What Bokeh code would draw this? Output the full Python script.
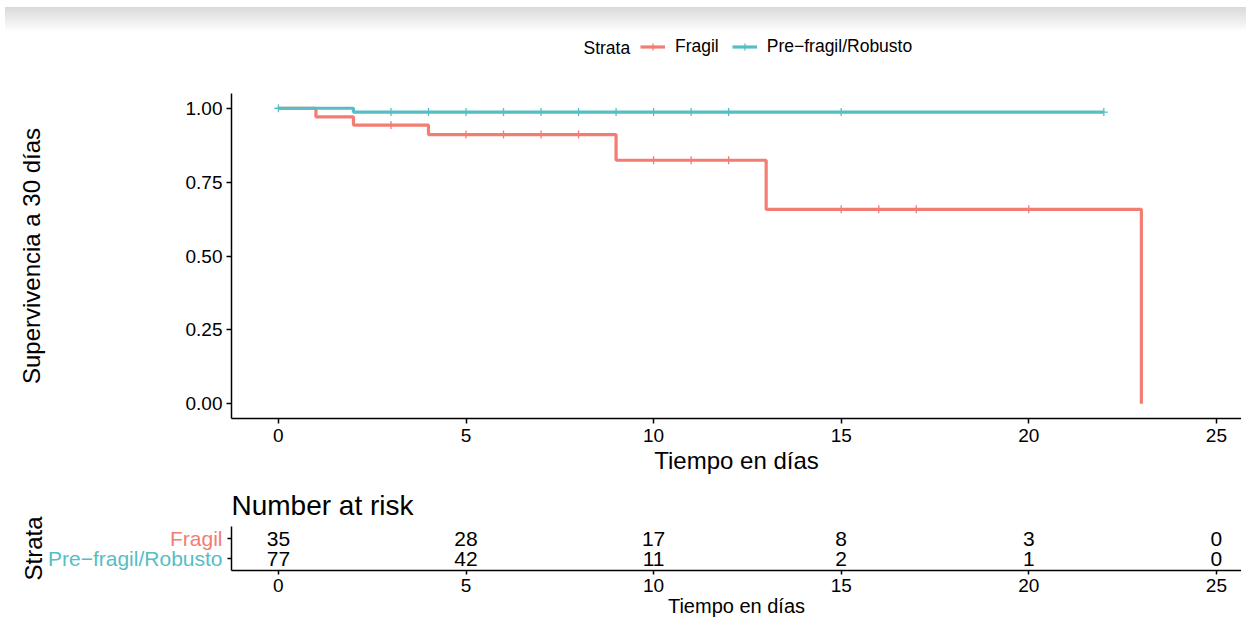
import numpy as np
from bokeh.plotting import figure
from bokeh.models import (Range1d, FixedTicker, PrintfTickFormatter, Legend, LegendItem, Div)
from bokeh.layouts import column, row
from bokeh.core.properties import value
from bokeh.embed import file_html
from bokeh.resources import INLINE

FONT = "Liberation Sans"

# ---------------- data ----------------
strata = ["Fragil", "Pre−fragil/Robusto"]
fragil_time = [0, 1, 2, 4, 9, 13, 23]
fragil_surv = [1.0, 0.971, 0.943, 0.911, 0.824, 0.658, 0.0]
fragil_censor = [3, 5, 6, 7, 8, 10, 11, 12, 15, 16, 17, 20]
robusto_time = [0, 2, 22]
robusto_surv = [1.0, 0.987, 0.987]
robusto_censor = [0, 3, 4, 5, 6, 7, 8, 9, 10, 11, 12, 15, 22]
risk_time = [0, 5, 10, 15, 20, 25]
risk_fragil = [35, 28, 17, 8, 3, 0]
risk_robusto = [77, 42, 11, 2, 1, 0]
x_ticks = [0, 5, 10, 15, 20, 25]
y_ticks = [0, 0.25, 0.5, 0.75, 1.0]

COL_F = "#F27D72"
COL_R = "#55BEC4"

# ---------------- layout constants ----------------
W = 1241
FRAME_LEFT = 231
X_START = -1.25
PX_PER_DAY = 37.52
X_END = X_START + (W - FRAME_LEFT) / PX_PER_DAY


def surv_at(times, surv, ts):
    idx = np.searchsorted(np.array(times), np.array(ts), side="right") - 1
    return [surv[i] for i in idx]


def style_axes(fig, tick_size="19px", title_size="24px"):
    for ax in (fig.xaxis[0], fig.yaxis[0]):
        ax.axis_line_color = "black"
        ax.axis_line_width = 1.5
        ax.major_tick_line_color = "black"
        ax.major_tick_line_width = 1.5
        ax.major_tick_in = 0
        ax.major_tick_out = 5
        ax.minor_tick_line_color = None
        ax.major_label_text_font = FONT
        ax.major_label_text_font_size = tick_size
        ax.major_label_text_color = "black"
        ax.axis_label_text_font = FONT
        ax.axis_label_text_font_size = title_size
        ax.axis_label_text_font_style = "normal"
        ax.axis_label_text_color = "black"


def blank_fig(width, height, xr, yr):
    f = figure(width=width, height=height, x_range=xr, y_range=yr,
               x_axis_type=None, y_axis_type=None, output_backend="svg", toolbar_location=None,
               min_border_left=0, min_border_right=0, min_border_top=0, min_border_bottom=0)
    f.outline_line_color = None
    f.grid.visible = False
    f.frame_align = False
    return f


# ---------------- top band ----------------
band = Div(text="", width=W, height=25,
           styles={"background": "linear-gradient(to bottom, #ffffff 0px, #ffffff 2px, #d9d9d9 2px, #fcfcfc 25px)"})

# ---------------- legend strip ----------------
LG_H = 35
lg = blank_fig(W, LG_H, Range1d(0, W), Range1d(0, LG_H))
dl_f = lg.line([-100, -99], [-100, -100], line_color=COL_F, line_width=3.2)
ds_f = lg.scatter([-100], [-100], marker="cross", size=8, line_color=COL_F, line_width=1.3)
dl_r = lg.line([-100, -99], [-100, -100], line_color=COL_R, line_width=3.2)
ds_r = lg.scatter([-100], [-100], marker="cross", size=8, line_color=COL_R, line_width=1.3)
legend = Legend(items=[LegendItem(label=strata[0], renderers=[dl_f, ds_f]),
                       LegendItem(label=strata[1], renderers=[dl_r, ds_r])],
                location=(640, 13), orientation="horizontal",
                label_text_font=FONT, label_text_font_size="17.5px", label_text_color="black",
                glyph_width=25, glyph_height=17, label_standoff=10, spacing=13,
                padding=0, margin=0, border_line_color=None, background_fill_alpha=0)
lg.add_layout(legend)
lg.text(x=[583], y=[LG_H - 12], text=["Strata"], text_font=value(FONT), text_font_size="17.5px",
        text_color="black", text_baseline="middle", text_align="left")

# ---------------- survival plot ----------------
p = figure(width=W, height=410, x_range=Range1d(X_START, X_END), y_range=Range1d(-0.05, 1.05),
           output_backend="svg", toolbar_location=None,
           min_border_left=FRAME_LEFT, min_border_right=0, min_border_top=23, min_border_bottom=62)
p.outline_line_color = None
p.grid.visible = False
p.frame_align = False

p.step(fragil_time, fragil_surv, mode="after", line_color=COL_F, line_width=3.2)
p.step(robusto_time, robusto_surv, mode="after", line_color=COL_R, line_width=3.2)
p.scatter(fragil_censor, surv_at(fragil_time, fragil_surv, fragil_censor), marker="cross",
          size=8, line_color=COL_F, line_width=1.3)
p.scatter(robusto_censor, surv_at(robusto_time, robusto_surv, robusto_censor), marker="cross",
          size=8, line_color=COL_R, line_width=1.3)

p.xaxis.ticker = FixedTicker(ticks=x_ticks)
p.yaxis.ticker = FixedTicker(ticks=y_ticks)
p.yaxis.formatter = PrintfTickFormatter(format="%.2f")
p.xaxis.axis_label = "Tiempo en días"
p.yaxis.axis_label = "Supervivencia a 30 días"
style_axes(p)
p.xaxis.major_label_standoff = 5
p.yaxis.major_label_standoff = 4
p.xaxis.axis_label_standoff = 2
p.yaxis.axis_label_standoff = 138

# ---------------- risk table ----------------
R_H = 142
R_TOP = 46
R_BOTTOM = 52
R_LEFT = 8
R_Y0, R_Y1 = 0.4, 2.6
r = figure(width=W - (FRAME_LEFT - R_LEFT), height=R_H, x_range=p.x_range, y_range=Range1d(R_Y0, R_Y1),
           output_backend="svg", toolbar_location=None, title="Number at risk",
           min_border_left=R_LEFT, min_border_right=0, min_border_top=R_TOP, min_border_bottom=R_BOTTOM)
r.outline_line_color = None
r.grid.visible = False
r.frame_align = False
r.title.text_font = FONT
r.title.text_font_size = "28px"
r.title.text_font_style = "normal"
r.title.text_color = "black"
r.title.align = "left"
r.title.standoff = 11

r.text(x=risk_time, y=[2] * len(risk_time), text=[str(v) for v in risk_fragil],
       text_font=value(FONT), text_font_size="21px", text_align="center",
       text_baseline="middle", text_color="black")
r.text(x=risk_time, y=[1] * len(risk_time), text=[str(v) for v in risk_robusto],
       text_font=value(FONT), text_font_size="21px", text_align="center",
       text_baseline="middle", text_color="black")

r.xaxis.ticker = FixedTicker(ticks=x_ticks)
r.yaxis.ticker = FixedTicker(ticks=[1, 2])
r.yaxis.major_label_overrides = {1: "", 2: ""}
r.xaxis.axis_label = "Tiempo en días"
style_axes(r, title_size="20px")
r.yaxis.major_tick_out = 4
r.yaxis.major_label_standoff = 0
r.xaxis.major_tick_out = 4
r.xaxis.major_label_standoff = 4
r.xaxis.axis_label_standoff = 0

# strata labels to the left of the risk table (same vertical scale)
LW = FRAME_LEFT - R_LEFT
ppu = (R_H - R_TOP - R_BOTTOM) / (R_Y1 - R_Y0)
lf = blank_fig(LW, R_H, Range1d(0, LW),
               Range1d(R_Y0 - R_BOTTOM / ppu, R_Y1 + R_TOP / ppu))
lf.text(x=[LW - 1], y=[2], text=[strata[0]], text_font=value(FONT), text_font_size="21px",
        text_color=COL_F, text_align="right", text_baseline="middle")
lf.text(x=[LW - 1], y=[1], text=[strata[1]], text_font=value(FONT), text_font_size="21px",
        text_color=COL_R, text_align="right", text_baseline="middle")
lf.text(x=[33], y=[(R_Y0 + R_Y1) / 2], text=["Strata"], angle=np.pi / 2, text_font=value(FONT),
        text_font_size="24px", text_color="black", text_align="center", text_baseline="middle")

layout = column(band, lg, p, row(lf, r, spacing=0), spacing=0)
open("out.html", "w").write(file_html(layout, INLINE))
